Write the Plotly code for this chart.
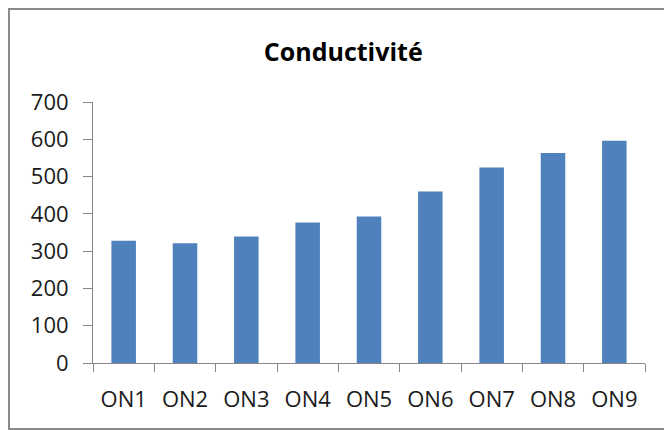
import plotly.graph_objects as go

# Conductivity readings per sampling point
categories = ["ON1", "ON2", "ON3", "ON4", "ON5", "ON6", "ON7", "ON8", "ON9"]
conductivity = [328, 321, 339, 377, 393, 460, 524, 563, 596]
y_ticks = [0, 100, 200, 300, 400, 500, 600, 700]

BAR_COLOR = "#4F81BD"
AXIS_COLOR = "#868686"
TEXT_COLOR = "#1a1a1a"
FONT = "Open Sans"

# plot area size in pixels, used to place the outer frame in paper units
PLOT_W, PLOT_H = 552, 261
ML, MB = 93, 67

fig = go.Figure(
    go.Bar(
        x=categories,
        y=conductivity,
        marker=dict(color=BAR_COLOR, line=dict(width=0)),
    )
)

fig.update_layout(
    width=664,
    height=430,
    margin=dict(l=ML, r=19, t=102, b=MB),
    paper_bgcolor="white",
    plot_bgcolor="white",
    bargap=0.6,
    showlegend=False,
    title=dict(
        text="<b>Conductivité</b>",
        x=0.517,
        xanchor="center",
        y=0.879,
        yanchor="middle",
        font=dict(family=FONT, size=25, color="black"),
    ),
    shapes=[
        # outer chart frame (runs past the right edge)
        dict(
            type="rect", xref="paper", yref="paper",
            x0=(9 - ML) / PLOT_W, x1=(668 - ML) / PLOT_W,
            y0=(430 - MB - 429) / PLOT_H, y1=(430 - MB - 9) / PLOT_H,
            line=dict(color="#8a8a8a", width=2),
            layer="below",
        )
    ],
)

fig.update_xaxes(
    type="category",
    tickson="boundaries",
    ticks="outside",
    ticklen=8,
    tickcolor=AXIS_COLOR,
    showline=True,
    linecolor=AXIS_COLOR,
    linewidth=1,
    showgrid=False,
    ticklabelstandoff=17,
    tickfont=dict(family=FONT, size=22, color=TEXT_COLOR),
)

fig.update_yaxes(
    range=[0, 700],
    tickvals=y_ticks,
    ticks="outside",
    ticklen=9,
    tickcolor=AXIS_COLOR,
    showline=True,
    linecolor=AXIS_COLOR,
    linewidth=1,
    showgrid=False,
    zeroline=False,
    ticklabelstandoff=10,
    tickfont=dict(family=FONT, size=22, color=TEXT_COLOR),
)

fig.write_html("out.html")
